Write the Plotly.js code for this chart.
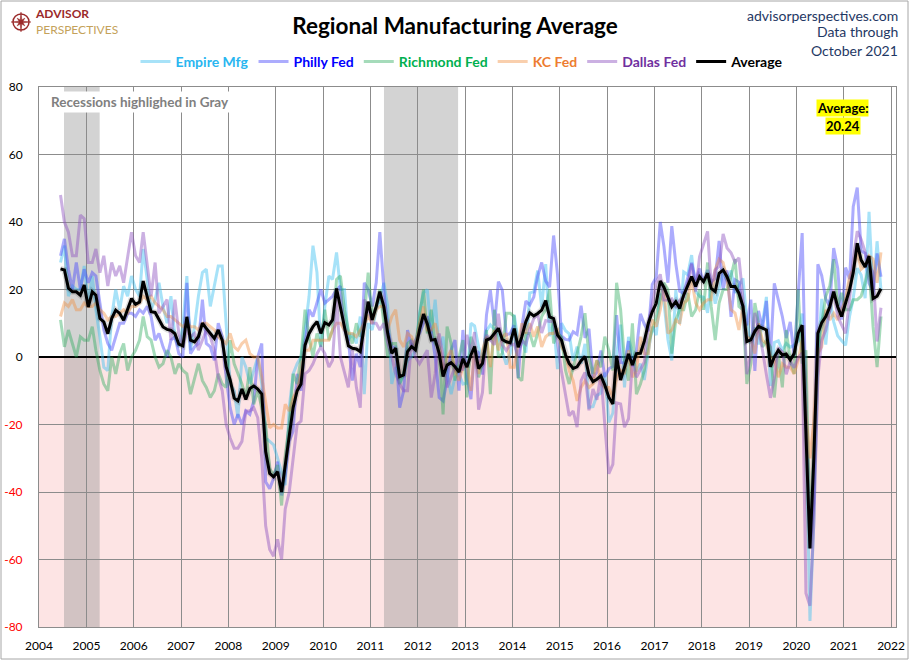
<!DOCTYPE html>
<html><head><meta charset="utf-8">
<script src="https://cdn.plot.ly/plotly-3.0.1.min.js"></script>
<style>html,body{margin:0;padding:0;background:#fff}#chart{width:910px;height:661px}</style>
</head><body><div id="chart"></div>
<script>
// Monthly data, June 2004 .. October 2021
const startYear = 2004, startMonth = 6;

const empire = [
 28, 33, 18, 21, 20, 20, 27,
 16, 24, 14, 6, -3, -4, 12, 20, 14, 21, 18, 24,
 20, 18, 32, 23, 14, 17, 22, 15, 10, 18, 6, 3,
 9, 24, 2, 9, 18, 25, 26, 15, 21, 27, 27, 10,
 -8, -10, -18, 0, -3, -8, -4, 0, -8, -24, -25, -26,
 -30, -34, -38, -15, -5, -2, 0, 8, 18, 33, 25, 3,
 15, 24, 23, 31, 20, 20, 5, 7, 4, 12, -11, 10,
 8, 14, 17, 22, 15, -8, -3, -8, -5, -1, 0, 2,
 13, 19, 20, 7, 17, 2, 6, -5, -11, -6, -5, -8,
 -7.8, 10, 9.2, 3, -1.4, 7.8, 9.5, 8.2, 6.3, 1.5, -2.2, 1,
 12.5, 4.5, 5.6, 1.3, 19, 19.3, 25.6, 14.7, 27.5, 6.2, 10.2, -3.6,
 10, 7.8, 6.9, -1.2, 3.1, -2, 3.9, -14.9, -14.7, -11.4, -10.7, -4.6,
 -19.4, -16.6, 0.6, 9.6, -9, 6, 0.6, -4.2, -2, -6.8, 1.5, 9,
 6.5, 18.7, 16.4, 5.2, -1, 19.8, 9.8, 25.2, 24.4, 30.2, 19.4, 18,
 17.7, 13.1, 22.5, 15.8, 20.1, 25, 22.6, 25.6, 19, 21.1, 23.3, 10.9,
 3.9, 8.8, 3.7, 10.1, 17.8, -8.6, 4.3, 4.8, 2, 4, 2.9, 3.5,
 4.8, 12.9, -21.5, -78.2, -48.5, -0.2, 17.2, 3.7, 17, 10.5, 6.3, 4.9,
 3.5, 12.1, 17.4, 26.3, 24.3, 17.4, 43, 18.3, 34.3, 19.8
];
const philly = [
 30, 35, 26, 20, 28, 20, 26,
 22, 25, 24, 16, 8, 4, 2, 6, 10, 10, 13, 13,
 12, 14, 13, 15, 12, 5, 7, 3, 0, 5, 6, 1,
 0, 22, 1, 3, 4, 17, 4, 3, -1, 10, 6, -6,
 -15, -20, -17, -20, -16, -17, -13, 0, 4, -37, -39, -36,
 -31, -41, -35, -25, -22, -5, -10, 4, 14, 12, 16, 20,
 16, 17, 18, 20, 21, 8, 5, -7, 1, -3, 22, 20,
 15, 22, 37, 20, 8, 3, 3, -15, -10, 8, 3, 5,
 7, 10, 12, 8, 0, -12, -13, -7, 2, 5, -10, 8,
 -5.8, -12.5, 2, 1.3, -5.2, 12.5, 19.8, 9.3, 22.3, 19.8, 6.5, 7,
 9.4, -6.3, 9, 16.6, 15.4, 17.8, 23.9, 28, 22.5, 20.7, 36, 24.5,
 6.3, 5.2, 5, 7.5, 6.7, 15.2, 5.7, 8.3, -6, -4.5, 1.9, -5.9,
 -3.5, -2.8, 12.4, -1.6, -1.8, 4.7, -2.9, 2, 12.8, 9.7, 7.6, 21.5,
 23.6, 40, 32.8, 22, 38.8, 27.6, 19.5, 18.9, 23.8, 27.9, 22.7, 26.2,
 22.2, 25.8, 22.3, 23.2, 34.4, 19.9, 25.7, 11.9, 22.9, 22.2, 12.9, 9.4,
 17, -4.1, 13.7, 8.5, 16.6, 0.3, 21.8, 16.8, 12, 5.6, 10.4, 0.3,
 17, 36.7, -12.7, -56.6, -43.1, 27.5, 24.1, 17.2, 15, 32.3, 26.3, 11.1,
 26.5, 23.1, 44.5, 50.2, 31.5, 30.7, 21.9, 19.4, 30.7, 23.8
];
const richmond = [
 11, 3, 8, 4, 0, 6, 5,
 5, 9, 2, -4, -8, -10, 0, -5, 1, 4, -4, 0,
 2, 5, 12, 6, 5, 0, -3, -2, 2, 0, -5, -2,
 -4, -5, -11, -6, -2, -7, -9, -12, -10, -5, -8, -9,
 5, -2, -5, -8, -12, -3, -14, -10, -15, -20, -33, -35,
 -32, -44, -30, -20, -5, -8, 0, 14, 6, 0, 7, 3,
 14, 5, 8, 23, 24, 14, 8, 4, 10, 6, 12, 25,
 12, 15, 20, 10, 0, 4, 4, -8, -5, 4, 5, 2,
 12, 20, 7, 14, 4, 3, -17, 9, 4, -7, 0, 5,
 -12, 6, 3, -6, -2, 8, -11, 14, 0, 1, 13, 13,
 12, -6, -7, 7, 7, 3, 7, 12, 14, 20, 4, 7,
 6, -4, -8, -3, 1, 6, 13, 0, -5, -1, -3, 6,
 2, -4, 22, 14, -1, -7, 10, -11, -8, -4, 4, 8,
 12, 17, 22, 20, 1, 11, 14, 14, 19, 12, 14, 20,
 14, 28, 15, 5, 16, 20, 20, 24, 29, 15, 14, -8,
 -2, 16, 10, 3, 5, 3, -12, 1, -9, 8, -1, -5,
 20, -2, 2, -53, -27, 0, 10, 18, 21, 29, 15, 19,
 14, 14, 17, 17, 18, 22, 27, 9, -3, 12
];
const kcFed = [
 12, 16, 15, 17, 14, 14, 16,
 15, 15, 16, 14, 13, 11, 12, 12, 13, 14, 13, 15,
 15, 16, 18, 17, 18, 16, 15, 14, 12, 12, 11, 10,
 9, 10, 9, 9, 8, 10, 10, 9, 8, 6, 5, 4,
 7, 3, 2, 4, 5, 1, 0, 0, -6, -14, -21, -20,
 -21, -21, -14, -16, -12, -10, -5, 2, 2, 5, 5, 5,
 5, 5, 8, 10, 10, 8, 7, 7, 6, 8, 10, 12,
 10, 14, 15, 15, 8, 12, 14, 5, 3, 7, 6, 3,
 10, 15, 8, 8, 10, 5, -5, 0, 2, -4, -7, -3,
 -2, -10, 2, -5, 2, 6, -3, 8, 2, 6, 7, -3,
 -3, 4, 10, 7, 10, 6, 9, 3, 6, 7, 7, 8,
 3, 1, -4, -7, -13, -9, -7, -9, -8, -1, -8, -9,
 -9, -12, -6, -4, -5, 2, -6, -4, 6, 1, 1, 11,
 9, 14, 20, 7, 8, 11, 10, 16, 17, 23, 16, 14,
 16, 17, 17, 26, 29, 28, 23, 14, 13, 8, 15, 6,
 5, 1, 10, 5, 4, 0, -1, -6, -2, -3, -3, -5,
 -1, 5, -17, -30, -19, 1, 3, 14, 11, 13, 11, 14,
 17, 24, 26, 31, 26, 27, 30, 29, 22, 31
];
const dallas = [
 48, 40, 37, 30, 30, 42, 41,
 28, 28, 32, 25, 30, 21, 28, 24, 27, 22, 30, 37,
 30, 28, 37, 28, 18, 28, 13, 15, 17, 5, 17, 7,
 3, 8, 6, 7, 2, 5, 8, 6, 2, -6, -10, -20,
 -24, -27, -27, -25, -16, -16, -15, -18, -30, -50, -57, -59,
 -54, -60, -45, -40, -30, -20, -19, -5, -4, -2, 1, 3,
 1, -3, -1, 17, 0, -5, -9, 2, -9, -15, 17, 15,
 10, 10, 8, 10, 4, 0, -5, -8, -10, -10, 5, 0,
 -2, 0, 2, -12, -5, 7, 0, -9, -6, -3, 0, -4,
 6.6, 1.4, 7.4, -15.6, -10.5, 6.5, 5, 3.6, 12.8, 3.6, 1.9, 3.7,
 3.8, 0.3, 4.9, 3.8, 8, 11.4, 12.7, 7.1, 10.8, 10.5, 10.5, 4.1,
 -4.4, -11.2, -17.4, -16, -20.8, -7, -4.6, -15.8, -9.5, -12.7, -4.9, -20.1,
 -34.6, -31.8, -13.6, -13.9, -20.8, -18.3, -1.3, -6, -3.7, -1.5, 10.2, 15.5,
 22.1, 24.5, 16.9, 16.8, 17.2, 15, 16.8, 17.9, 21.3, 27.6, 19.4, 29.7,
 33.4, 37.2, 21.3, 25.8, 26.8, 36.5, 32.3, 30.9, 28.1, 29.4, 17.6, -5.1,
 1, 13.1, 8.3, 2, -5.3, -12.1, -6.3, 2.7, 1.5, -5.1, -1.3, -3.2,
 -0.2, 1.2, -70, -73.7, -49.2, -6.1, 5, 8, 13.6, 19.8, 12, 9.7,
 7, 17.2, 28.9, 37.3, 34.9, 31.1, 27.3, 25, 4.6, 14.6
];
const average = [
 26.1, 25.8, 20.4, 19.3, 19.3, 18.3, 21.3,
 14.8, 19.3, 18.3, 11.4, 10.4, 6.9, 11.4, 13.9, 12.9, 10.9, 13.9, 17.3,
 15.6, 16.3, 22.5, 17.8, 13.4, 13.2, 10.9, 8.9, 8.2, 7.9, 6.9, 3.8,
 3.3, 11.9, 5.0, 4.5, 6.0, 10.0, 8.5, 7.0, 5.5, 8.0, 5.0, -2.9,
 -6.8, -12.2, -13.0, -9.5, -12.6, -9.3, -8.6, -9.5, -11.0, -28.0, -34.5, -35.5,
 -34.0, -40.0, -32.0, -23.0, -15.0, -10.0, -8.0, 3.5, 7.0, 9.0, 10.5, 7.0,
 10.2, 9.5, 11.0, 20.3, 14.9, 9.0, 3.3, 2.6, 2.4, 1.6, 9.9, 16.4,
 11.0, 14.9, 19.4, 14.9, 7.0, 1.1, 2.6, -5.8, -5.3, 1.6, 3.1, 2.1,
 8.0, 12.7, 9.9, 5.0, 5.2, 1.1, -5.8, -2.4, -1.7, -2.9, -4.5, -0.5,
 -3.0, 0.6, 3.1, -3.4, -1.9, 5.0, 5.5, 7.0, 8.5, 5.2, 4.5, 4.2,
 8.4, 2.9, 6.0, 10.5, 13.1, 12.2, 12.9, 13.9, 16.7, 11.9, 11.4, 6.5,
 5.0, 0.6, -1.9, -3.4, -2.9, -1.1, 0.1, -5.3, -7.3, -6.6, -5.6, -8.3,
 -11.9, -13.9, 0.3, -6.8, -2.9, 0.9, -2.4, 1.0, 1.1, 4.7, 10.0, 13.4,
 15.9, 22.5, 20.7, 17.8, 14.9, 16.4, 14.4, 18.4, 21.0, 23.8, 20.9, 23.8,
 22.3, 24.8, 20.3, 19.4, 24.8, 25.8, 23.8, 20.9, 20.9, 18.9, 15.0, 4.6,
 5.1, 7.6, 9.1, 8.6, 8.0, -2.9, 0.0, 2.0, 0.6, 0.9, -0.9, 1.0,
 7.0, 9.4, -24.0, -56.7, -30.0, 7.0, 10.2, 12.0, 14.9, 19.4, 14.9, 12.0,
 16.0, 20.0, 25.0, 33.7, 28.7, 26.7, 29.9, 17.3, 18.0, 20.24
];
const latestAverage = "20.24";
const yTickVals = [80, 60, 40, 20, 0, -20, -40, -60, -80];
const xTickYears = [2004,2005,2006,2007,2008,2009,2010,2011,2012,2013,2014,2015,2016,2017,2018,2019,2020,2021,2022];
const recessions = [["2004-07-12", "2005-04-13"], ["2011-04-16", "2012-11-08"]];

function monthDates(n) {
  const out = [];
  for (let i = 0; i < n; i++) {
    const t = startMonth - 1 + i;
    const y = startYear + Math.floor(t / 12);
    const m = (t % 12) + 1;
    out.push(y + "-" + String(m).padStart(2, "0") + "-15");
  }
  return out;
}
const dates = monthDates(average.length);

// layout geometry (pixels)
const L = 39, R = 896, T = 87, B = 627, W = R - L, H = B - T;
const px = v => (v - L) / W;
const py = v => (B - v) / H;
const FONT = "Lato, 'Open Sans', sans-serif";

const series = [
  {name: "Empire Mfg", y: empire, line: "rgba(60,190,240,0.45)", text: "#29b6f0"},
  {name: "Philly Fed", y: philly, line: "rgba(70,70,250,0.45)", text: "#0000ff"},
  {name: "Richmond Fed", y: richmond, line: "rgba(40,170,90,0.42)", text: "#00b050"},
  {name: "KC Fed", y: kcFed, line: "rgba(240,140,60,0.42)", text: "#ed7d31"},
  {name: "Dallas Fed", y: dallas, line: "rgba(140,80,190,0.45)", text: "#7030a0"}
];
const traces = series.map(s => ({
  type: "scatter", mode: "lines", x: dates, y: s.y,
  name: '<b><span style="color:' + s.text + '">' + s.name + '</span></b>',
  line: {color: s.line, width: 3}, hoverinfo: "skip"
}));
traces.push({
  type: "scatter", mode: "lines", x: dates, y: average, showlegend: false,
  line: {color: "rgba(0,0,0,0.13)", width: 6}, hoverinfo: "skip"
});
traces.push({
  type: "scatter", mode: "lines", x: dates, y: average,
  name: "<b>Average</b>", line: {color: "#000000", width: 3}
});

const shapes = [
  {type: "rect", xref: "paper", yref: "y", x0: 0, x1: 1, y0: -80, y1: 0,
   fillcolor: "#fde4e4", line: {width: 0}, layer: "below"}
];
recessions.forEach(r => shapes.push({
  type: "rect", xref: "x", yref: "paper", x0: r[0], x1: r[1], y0: 0, y1: 1,
  fillcolor: "rgba(150,150,150,0.42)", line: {width: 0}, layer: "below"
}));
// figure border
shapes.push({type: "rect", xref: "paper", yref: "paper",
  x0: px(1), x1: px(908), y0: py(659), y1: py(1),
  line: {color: "#a6a6a6", width: 1}, fillcolor: "rgba(0,0,0,0)"});
// logo emblem
const cx = 21, cy = 22;
shapes.push({type: "circle", xref: "paper", yref: "paper",
  x0: px(cx - 8), x1: px(cx + 8), y0: py(cy + 8), y1: py(cy - 8),
  line: {color: "#9b2a2a", width: 1.5}, fillcolor: "rgba(0,0,0,0)"});
(function () {
  let d = "";
  for (let k = 0; k < 16; k++) {
    const ang = k * Math.PI / 8;
    const r = (k % 4 === 0) ? 10 : (k % 2 === 0 ? 5.5 : 2.2);
    const x = cx + r * Math.sin(ang), y = cy - r * Math.cos(ang);
    d += (k === 0 ? "M" : "L") + px(x).toFixed(5) + "," + py(y).toFixed(5);
  }
  d += "Z";
  shapes.push({type: "path", xref: "paper", yref: "paper", path: d,
    fillcolor: "#9b2a2a", line: {color: "#9b2a2a", width: 0.5}});
})();

const annotations = [
  {xref: "paper", yref: "paper", x: px(48), y: py(102), xanchor: "left", yanchor: "middle",
   text: "<b>Recessions highlighed in Gray</b>", showarrow: false, bgcolor: "#ffffff", borderpad: 2,
   font: {family: FONT, size: 13.5, color: "#808080"}},
  {xref: "paper", yref: "paper", x: px(842.5), y: py(108), xanchor: "center", yanchor: "middle",
   text: "<b>Average:</b>", showarrow: false, bgcolor: "#ffff00", borderpad: 0,
   font: {family: FONT, size: 13, color: "#000000"}},
  {xref: "paper", yref: "paper", x: px(842.5), y: py(125.5), xanchor: "center", yanchor: "middle",
   text: "<b>" + latestAverage + "</b>", showarrow: false, bgcolor: "#ffff00", borderpad: 0,
   font: {family: FONT, size: 13, color: "#000000"}},
  {xref: "paper", yref: "paper", x: px(900), y: py(15), xanchor: "right", yanchor: "middle",
   text: "advisorperspectives.com", showarrow: false,
   font: {family: FONT, size: 14, color: "#1f3864"}},
  {xref: "paper", yref: "paper", x: px(900), y: py(32), xanchor: "right", yanchor: "middle",
   text: "Data through", showarrow: false,
   font: {family: FONT, size: 14, color: "#1f3864"}},
  {xref: "paper", yref: "paper", x: px(900), y: py(50), xanchor: "right", yanchor: "middle",
   text: "October 2021", showarrow: false,
   font: {family: FONT, size: 14, color: "#1f3864"}},
  {xref: "paper", yref: "paper", x: px(33), y: py(21), xanchor: "left", yanchor: "middle", align: "left",
   text: '<b><span style="color:#9b2a2a">ADVISOR</span></b><br><span style="color:#c4a25a">PERSPECTIVES</span>',
   showarrow: false, font: {family: FONT, size: 12, color: "#9b2a2a"}}
];

const layout = {
  width: 910, height: 661,
  margin: {l: L, r: 910 - R, t: T, b: 661 - B, pad: 0},
  paper_bgcolor: "#ffffff", plot_bgcolor: "#ffffff",
  font: {family: FONT, size: 12, color: "#000000"},
  title: {text: "<b>Regional Manufacturing Average</b>", xref: "container", x: 0.5, xanchor: "center",
          yref: "container", y: 1 - 26 / 661, yanchor: "middle",
          font: {family: FONT, size: 22.5, color: "#000000"}},
  showlegend: true,
  legend: {orientation: "h", xref: "paper", yref: "paper", x: px(462), xanchor: "center",
           y: py(62), yanchor: "middle", bgcolor: "rgba(0,0,0,0)",
           font: {family: FONT, size: 14, color: "#000000"}, itemwidth: 30, traceorder: "normal"},
  xaxis: {
    type: "date", range: ["2004-01-01", "2022-02-08"],
    tickvals: xTickYears.map(y => y + "-01-01"), ticktext: xTickYears.map(String),
    showgrid: true, gridcolor: "#8c8c8c", gridwidth: 1,
    showline: true, mirror: true, linecolor: "#8c8c8c", linewidth: 1,
    ticks: "outside", ticklen: 8, tickcolor: "rgba(0,0,0,0)",
    tickfont: {family: FONT, size: 12, color: "#000000"}, zeroline: false, fixedrange: true
  },
  yaxis: {
    range: [-80, 80], tickvals: yTickVals,
    ticktext: yTickVals.map(v => v < 0 ? '<span style="color:#ff0000">' + v + '</span>' : String(v)),
    showgrid: true, gridcolor: "#8c8c8c", gridwidth: 1,
    showline: true, mirror: true, linecolor: "#8c8c8c", linewidth: 1,
    zeroline: true, zerolinecolor: "#000000", zerolinewidth: 2,
    ticks: "outside", ticklen: 13, tickcolor: "rgba(0,0,0,0)",
    tickfont: {family: FONT, size: 12, color: "#000000"}, fixedrange: true
  },
  shapes: shapes,
  annotations: annotations
};

Plotly.newPlot("chart", traces, layout, {displayModeBar: false, staticPlot: true});
</script>
</body></html>
